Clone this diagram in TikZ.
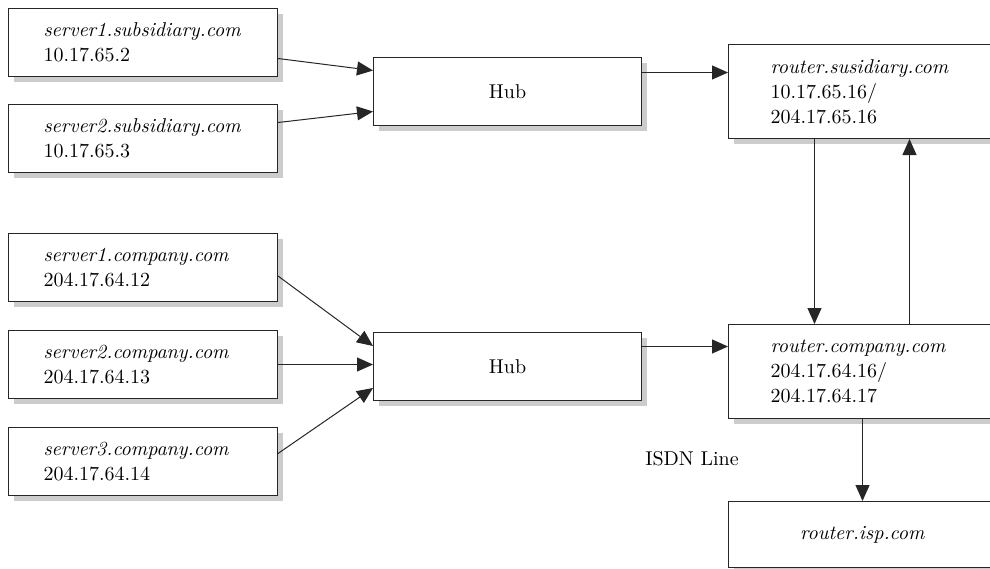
\documentclass[tikz,border=0pt]{standalone}
\usetikzlibrary{positioning, arrows.meta, shadows}

\begin{document}
\begin{tikzpicture}[->, >={Triangle[length=8pt,width=7pt]}, x=0.5pt, y=0.5pt,
    line width=0.5pt, draw=black!85, text=black,
    font=\fontsize{10}{12.5}\selectfont,
    box/.style={draw=black!85, fill=white, -, minimum height=34pt,
      drop shadow={shadow xshift=2.5pt, shadow yshift=-2.5pt, fill=black!20, opacity=1}},
    server/.style={box, minimum width=134.5pt, inner xsep=17.5pt, text width=99.5pt, align=left},
    hub/.style={box, minimum width=134pt},
    router/.style={box, minimum width=162pt, minimum height=47pt, inner xsep=21pt, text width=120pt, align=left}]
    \useasboundingbox (0,0) rectangle (990,-568);

    \node[server, anchor=north west] (s1sub) at (8,-8) {\textit{server1.subsidiary.com}\\10.17.65.2};
    \node[server, below=13.5pt of s1sub] (s2sub) {\textit{server2.subsidiary.com}\\10.17.65.3};

    \node[server, anchor=north west] (s1co) at (8,-233) {\textit{server1.company.com}\\204.17.64.12};
    \node[server, below=14pt of s1co] (s2co) {\textit{server2.company.com}\\204.17.64.13};
    \node[server, below=14pt of s2co] (s3co) {\textit{server3.company.com}\\204.17.64.14};

    \node[hub, anchor=north west] (hub1) at (373,-57) {Hub};
    \node[hub, anchor=north west] (hub2) at (373,-332) {Hub};

    \node[router, right=43pt of hub1] (rsub) {\textit{router.susidiary.com}\\10.17.65.16/\\204.17.65.16};
    \node[router, below=92.5pt of rsub] (rcomp) {\textit{router.company.com}\\204.17.64.16/\\204.17.64.17};
    \node[box, minimum width=134pt, minimum height=33pt, below=41pt of rcomp.south west, anchor=north west] (risp) {\textit{router.isp.com}};

    \node[anchor=base] (isdn) at (692,-465) {ISDN Line};

    \coordinate (h1out) at ([yshift=9.5pt]hub1.east);
    \coordinate (h2out) at ([yshift=10pt]hub2.east);

    \path ([yshift=-8pt]s1sub.east) edge ([yshift=10.5pt]hub1.west)
          ([yshift=8pt]s2sub.east) edge ([yshift=-10pt]hub1.west)
          (h1out) edge (h1out -| rsub.west)
          ([yshift=-4.25pt]s1co.east) edge ([yshift=10.25pt]hub2.west)
          (s2co.east) edge (hub2.west |- s2co.east)
          ([yshift=4pt]s3co.east) edge ([yshift=-10.75pt]hub2.west)
          (h2out) edge (h2out -| rcomp.west)
          ([xshift=-38pt]rsub.south) edge ([xshift=-38pt]rcomp.north)
          ([xshift=9.5pt]rcomp.north) edge ([xshift=9.5pt]rsub.south)
          (risp.north |- rcomp.south) edge (risp.north);
\end{tikzpicture}
\end{document}
